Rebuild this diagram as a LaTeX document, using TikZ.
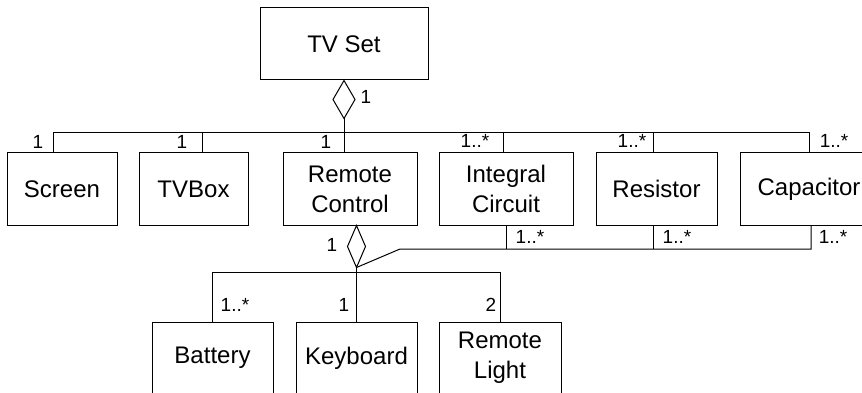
\documentclass[tikz,border=0pt]{standalone}
\usepackage{fontspec}
\setmainfont{Liberation Sans}
\begin{document}
\begin{tikzpicture}[x=1pt, y=-1pt, line width=1pt,
    classbox/.style={draw, rectangle, inner sep=0pt, align=center,
      font=\fontsize{24}{30}\selectfont, minimum height=72pt},
    mult/.style={inner sep=0pt, font=\fontsize{19}{19}\selectfont}]
    \useasboundingbox (0,0) rectangle (862,393);
    \clip (0,0) rectangle (862,393);

    % Whole
    \node[classbox, minimum width=168pt] (tvset) at (344,44) {TV Set};

    % Parts of the TV set
    \node[classbox, minimum width=110pt] (screen) at (62,189) {Screen};
    \node[classbox, minimum width=109pt] (tvbox) at (193.5,189) {TVBox};
    \node[classbox, minimum width=134pt] (remote) at (350,189) {Remote\\Control};
    \node[classbox, minimum width=134pt] (ic) at (506,189) {Integral\\Circuit};
    \node[classbox, minimum width=121pt] (resistor) at (656.5,189) {Resistor};
    \node[classbox, minimum width=138pt] (capacitor) at (809,189) {Capacitor};

    % Parts of the remote control
    \node[classbox, minimum width=121pt] (battery) at (212.5,358) {Battery};
    \node[classbox, minimum width=121pt] (keyboard) at (356.5,358) {Keyboard};
    \node[classbox, minimum width=122pt] (rlight) at (500,358) {Remote\\Light};

    % Aggregation: TV Set
    \draw (tvset.south) -- ++(11,19) -- ++(-11,19) coordinate (diaA) -- ++(-11,-19) -- cycle;
    \draw (diaA) -- (diaA |- remote.north);
    \coordinate (jScreen) at (53,133);
    \coordinate (jTVBox) at (202,133);
    \coordinate (jIC) at (503,133);
    \coordinate (jRes) at (653,133);
    \coordinate (jCap) at (809,133);
    \draw (screen.north -| jScreen) -- (jScreen) -- (jCap) -- (capacitor.north);
    \foreach \p/\j in {tvbox/jTVBox, ic/jIC, resistor/jRes}
      \draw (\j) -- (\p.north -| \j);

    % Aggregation: Remote Control
    \draw (remote.south -| keyboard.north) -- ++(9,21) -- ++(-9,21) coordinate (diaB) -- ++(-9,-21) -- cycle;
    \draw (diaB) -- (keyboard.north);
    \draw (battery.north) -- ++(0,-49) -| (rlight.north);

    % Shared components (lower bus)
    \coordinate (kBend) at (400,249);
    \coordinate (kIC) at (506,249);
    \coordinate (kRes) at (653,249);
    \coordinate (kCap) at (811,249);
    \draw (diaB) -- (kBend) -- (kCap) -- (capacitor.south -| kCap);
    \draw (kIC) -- (ic.south -| kIC);
    \draw (kRes) -- (resistor.south -| kRes);

    % Multiplicities
    \node[mult] (mTV) at (366,97) {1};
    \node[mult] (mScreen) at (38,142) {1};
    \node[mult] (mTVBox) at (182,142) {1};
    \node[mult] (mRemote) at (326,142) {1};
    \node[mult] (mIC) at (475,141) {1..*};
    \node[mult] (mRes) at (632,141) {1..*};
    \node[mult] (mCap) at (834,141) {1..*};
    \node[mult] (mICb) at (530,237) {1..*};
    \node[mult] (mResb) at (677,237) {1..*};
    \node[mult] (mCapb) at (833,237) {1..*};
    \node[mult] (mRC) at (332,245) {1};
    \node[mult] (mBat) at (235,305) {1..*};
    \node[mult] (mKey) at (344,305) {1};
    \node[mult] (mLight) at (491,305) {2};
  \end{tikzpicture}
\end{document}
